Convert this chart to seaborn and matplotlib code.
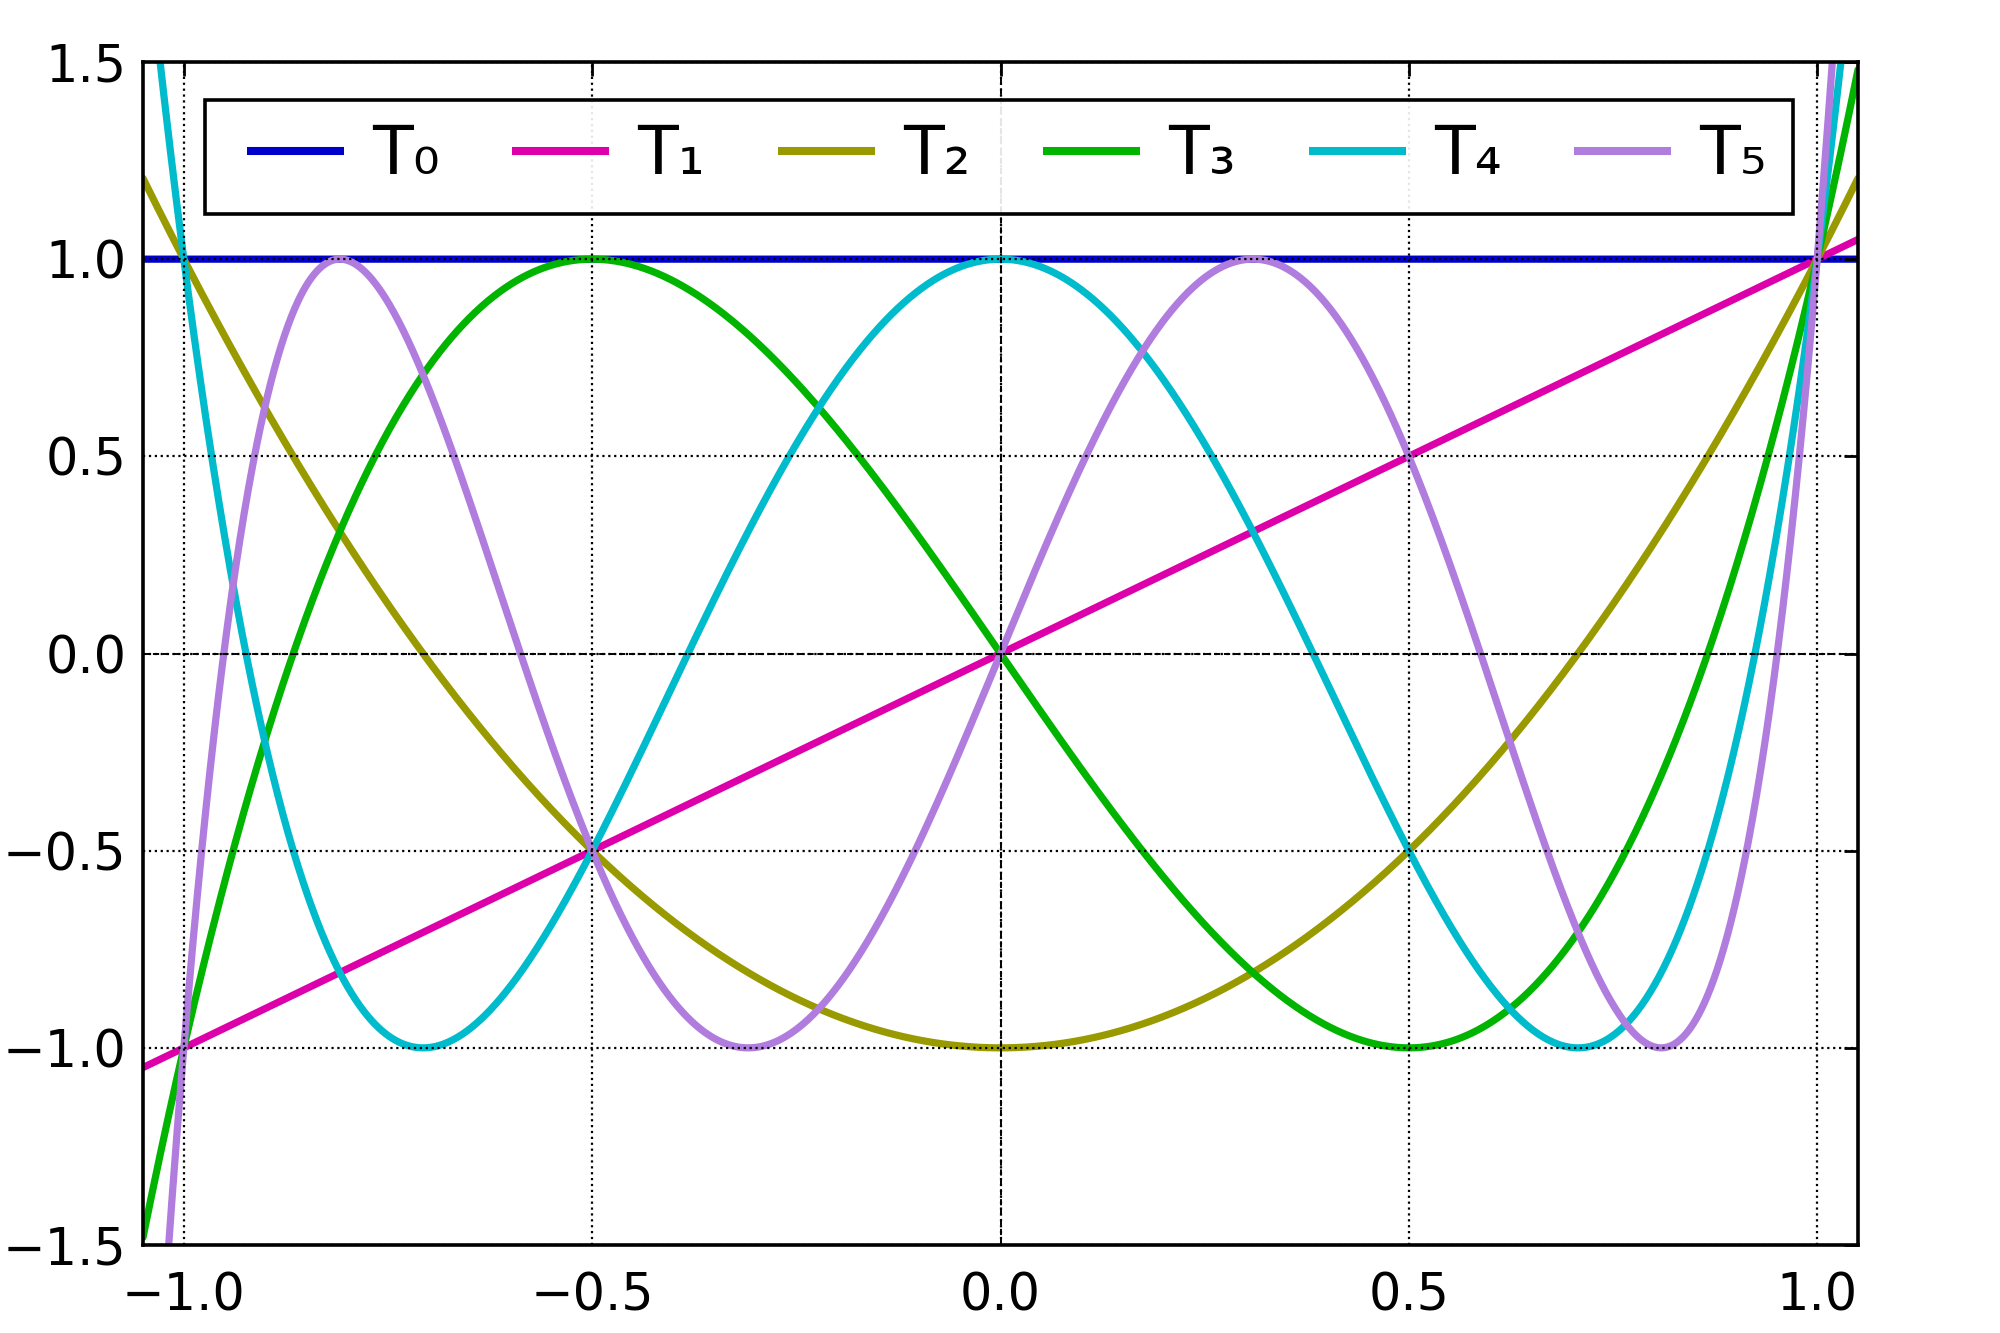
import numpy as np
import pandas as pd
import matplotlib
matplotlib.use("Agg")
import matplotlib.pyplot as plt
import matplotlib.patches as mpatches
import seaborn as sns
from numpy.polynomial import polynomial as P

# Chebyshev polynomial coefficients (ascending powers of x)
names = ["T₀", "T₁", "T₂", "T₃", "T₄", "T₅"]
coef_T0 = [1]
coef_T1 = [0, 1]
coef_T2 = [-1, 0, 2]
coef_T3 = [0, -3, 0, 4]
coef_T4 = [1, 0, -8, 0, 8]
coef_T5 = [0, 5, 0, -20, 0, 16]
colors = ["#0000cc", "#dd00aa", "#999900", "#00b400", "#00bbcc", "#b07cdd"]
x_ticks = [-1.0, -0.5, 0.0, 0.5, 1.0]
y_ticks = [-1.5, -1.0, -0.5, 0.0, 0.5, 1.0, 1.5]

coefs = [coef_T0, coef_T1, coef_T2, coef_T3, coef_T4, coef_T5]
x = np.linspace(-1.05, 1.05, 2001)
frames = []
for n, c in zip(names, coefs):
    frames.append(pd.DataFrame({"x": x, "y": P.polyval(x, c), "T": n}))
df = pd.concat(frames, ignore_index=True)

sns.set_theme(style="white")
plt.rcParams["font.family"] = ["DejaVu Sans"]
plt.rcParams["text.color"] = "black"
plt.rcParams["axes.labelcolor"] = "black"

fig = plt.figure(figsize=(10, 6.665), dpi=200)
ax = fig.add_axes([0.0715, 0.066, 0.8575, 0.8875])

sns.lineplot(data=df, x="x", y="y", hue="T", palette=colors, hue_order=names,
             linewidth=2.6, ax=ax, sort=False, estimator=None)

ax.set_xlim(-1.05, 1.05)
ax.set_ylim(-1.5, 1.5)
ax.set_xticks(x_ticks)
ax.set_yticks(y_ticks)
ax.set_xlabel("")
ax.set_ylabel("")
ax.tick_params(direction="in", length=5, width=1.0, top=True, right=True,
               labelsize=18.3, colors="black")
ax.tick_params(axis="x", pad=9.5)
ax.tick_params(axis="y", pad=6)
for s in ax.spines.values():
    s.set_color("black")
    s.set_linewidth(1.3)

ax.set_axisbelow(False)
ax.grid(True, color="black", linestyle=":", linewidth=0.8)
ax.axhline(0, color="black", linestyle=(0, (3.2, 1.9)), linewidth=0.7, zorder=3)
ax.axvline(0, color="black", linestyle=(0, (3.2, 1.9)), linewidth=0.7, zorder=3)

# legend frame box
frame = mpatches.Rectangle((0.036, 0.8715), 0.926, 0.0965, transform=ax.transAxes,
                           edgecolor="black", linewidth=1.3, zorder=4.9)
frame.set_facecolor((1, 1, 1, 0.9))
ax.add_patch(frame)

leg = ax.legend(loc="center", bbox_to_anchor=(0.0606, 0.9114, 0.8863, 0.02),
                mode="expand", ncol=6, fontsize=24, frameon=False,
                handlelength=1.455, handletextpad=0.42, borderpad=0,
                borderaxespad=0, labelcolor="black")
leg.set_zorder(5)
for ln in leg.get_lines():
    ln.set_linewidth(2.9)
    ln.set_solid_capstyle("butt")

fig.savefig("out.png", dpi=200)
